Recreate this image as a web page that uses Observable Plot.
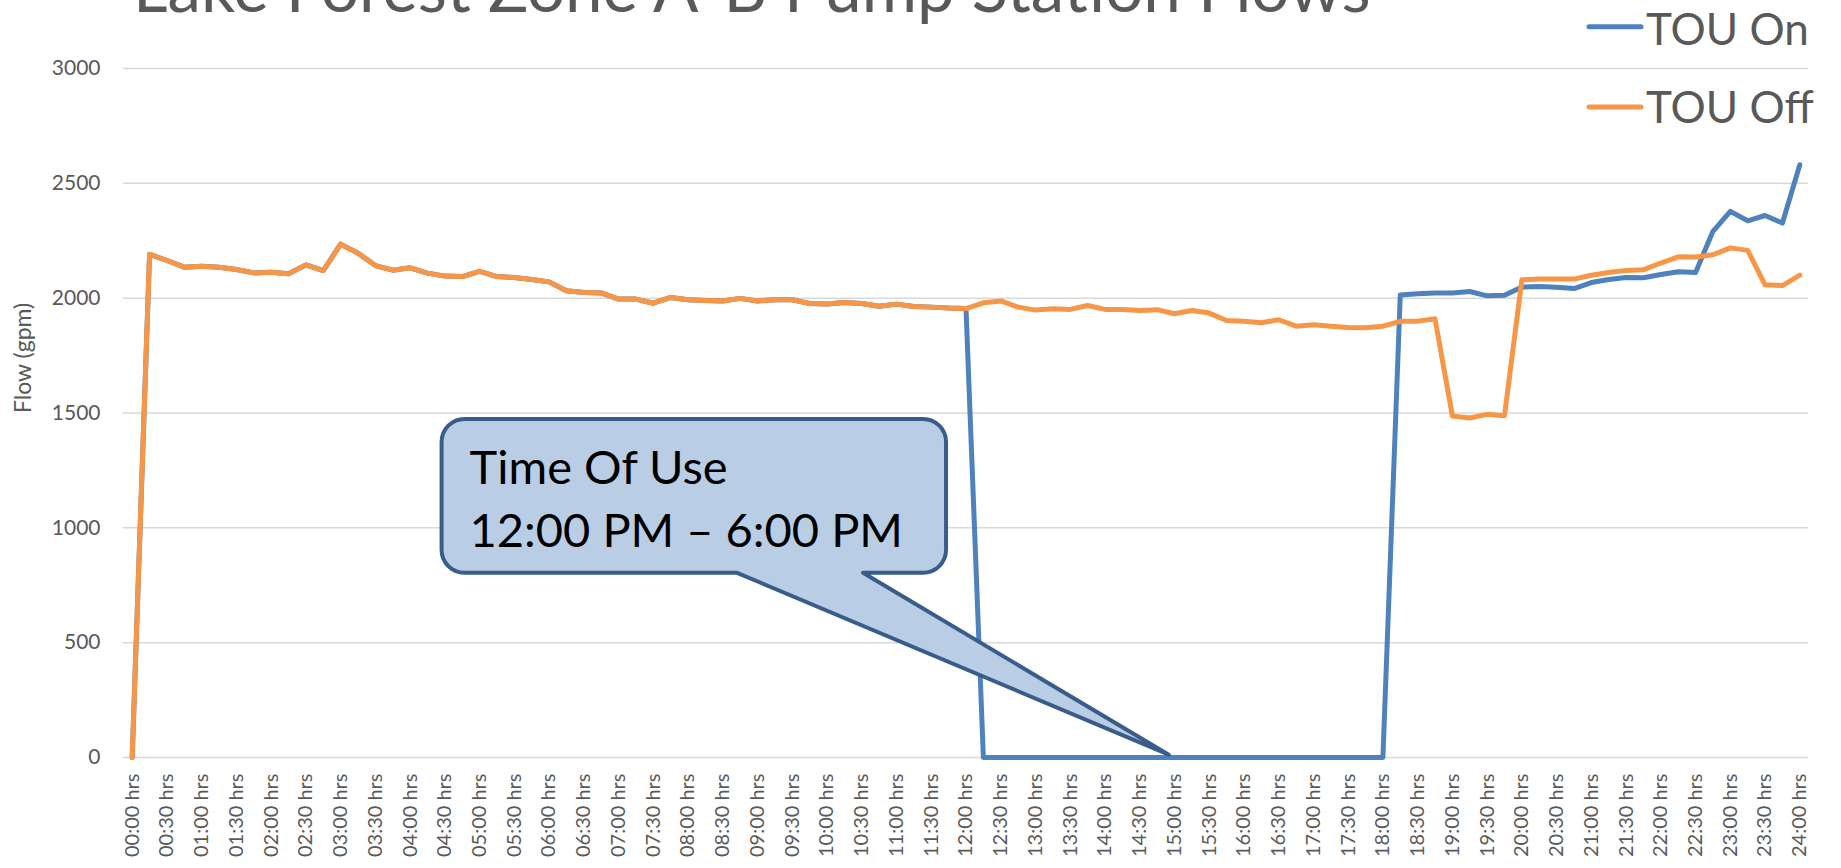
<!DOCTYPE html>
<html><head><meta charset="utf-8">
<script src="https://cdn.jsdelivr.net/npm/d3@7"></script>
<script src="https://cdn.jsdelivr.net/npm/@observablehq/plot@0.6"></script>
<style>html,body{margin:0;padding:0;background:#fff;overflow:hidden}</style>
</head><body><div id="chart"></div>
<script>
const times = ["00:00","00:15","00:30","00:45","01:00","01:15","01:30","01:45","02:00","02:15","02:30","02:45",
"03:00","03:15","03:30","03:45","04:00","04:15","04:30","04:45","05:00","05:15","05:30","05:45",
"06:00","06:15","06:30","06:45","07:00","07:15","07:30","07:45","08:00","08:15","08:30","08:45",
"09:00","09:15","09:30","09:45","10:00","10:15","10:30","10:45","11:00","11:15","11:30","11:45",
"12:00","12:15","12:30","12:45","13:00","13:15","13:30","13:45","14:00","14:15","14:30","14:45",
"15:00","15:15","15:30","15:45","16:00","16:15","16:30","16:45","17:00","17:15","17:30","17:45",
"18:00","18:15","18:30","18:45","19:00","19:15","19:30","19:45","20:00","20:15","20:30","20:45",
"21:00","21:15","21:30","21:45","22:00","22:15","22:30","22:45","23:00","23:15","23:30","23:45","24:00"];

const tickLabels = ["00:00 hrs","00:30 hrs","01:00 hrs","01:30 hrs","02:00 hrs","02:30 hrs","03:00 hrs","03:30 hrs",
"04:00 hrs","04:30 hrs","05:00 hrs","05:30 hrs","06:00 hrs","06:30 hrs","07:00 hrs","07:30 hrs","08:00 hrs","08:30 hrs",
"09:00 hrs","09:30 hrs","10:00 hrs","10:30 hrs","11:00 hrs","11:30 hrs","12:00 hrs","12:30 hrs","13:00 hrs","13:30 hrs",
"14:00 hrs","14:30 hrs","15:00 hrs","15:30 hrs","16:00 hrs","16:30 hrs","17:00 hrs","17:30 hrs","18:00 hrs","18:30 hrs",
"19:00 hrs","19:30 hrs","20:00 hrs","20:30 hrs","21:00 hrs","21:30 hrs","22:00 hrs","22:30 hrs","23:00 hrs","23:30 hrs","24:00 hrs"];

const touOn = [0,2191,2164,2135,2139,2135,2125,2110,2113,2106,2145,2120,
2235,2196,2142,2122,2132,2109,2096,2094,2117,2094,2090,2081,
2071,2032,2025,2023,1996,1996,1978,2003,1993,1990,1988,1999,
1988,1993,1993,1977,1975,1981,1977,1965,1974,1964,1961,1957,
1955,0,0,0,0,0,0,0,0,0,0,0,
0,0,0,0,0,0,0,0,0,0,0,0,
0,2014,2019,2022,2022,2029,2010,2013,2048,2051,2048,2042,
2068,2081,2090,2089,2103,2115,2112,2291,2378,2337,2360,2327,2581];

const touOff = [0,2191,2164,2135,2139,2135,2125,2110,2113,2106,2145,2120,
2235,2196,2142,2122,2132,2109,2096,2094,2117,2094,2090,2081,
2071,2032,2025,2023,1996,1996,1978,2003,1993,1990,1988,1999,
1988,1993,1993,1977,1975,1981,1977,1965,1974,1964,1961,1957,
1955,1980,1988,1961,1948,1954,1951,1968,1951,1951,1946,1950,
1932,1946,1935,1903,1899,1893,1906,1878,1884,1878,1872,1871,
1878,1899,1900,1910,1487,1478,1494,1488,2080,2083,2084,2083,
2100,2112,2121,2124,2153,2180,2179,2189,2219,2208,2058,2055,2100];

const seriesNames = ["TOU On", "TOU Off"];
const seriesColors = ["#4F81BD", "#F79646"];
const yTicks = [0, 500, 1000, 1500, 2000, 2500, 3000];
const titleText = "Lake Forest Zone A-B Pump Station Flows";
const yLabel = "Flow (gpm)";
const calloutLines = ["Time Of Use", "12:00 PM \u2013 6:00 PM"];
// callout geometry in data units (category index, gpm)
const callout = {x1: 17.84, x2: 46.88, yTop: 1472, yBottom: 802, baseL: 34.85, baseR: 42.1, tipX: 59.7, tipY: 10};

const rows = [];
times.forEach((t, i) => {
  rows.push({time: t, flow: touOn[i], series: seriesNames[0]});
  rows.push({time: t, flow: touOff[i], series: seriesNames[1]});
});
const tickTimes = times.filter((t, i) => i % 2 === 0);
const labelOf = new Map(tickTimes.map((t, k) => [t, tickLabels[k]]));
const FONT = "Lato, 'Open Sans', sans-serif";

const plot = Plot.plot({
  width: 1841, height: 868,
  marginLeft: 123, marginRight: 33, marginTop: 68, marginBottom: 111,
  style: {fontFamily: FONT, color: "#595959", background: "#fff"},
  x: {type: "point", domain: times, padding: 0.5, axis: null},
  y: {domain: [0, 3000], axis: null},
  color: {domain: seriesNames, range: seriesColors},
  marks: [
    Plot.gridY(yTicks, {stroke: "#d9d9d9", strokeOpacity: 1, strokeWidth: 1.5}),
    Plot.axisY(yTicks, {tickSize: 0, tickPadding: 23, fontSize: 21, label: null, tickFormat: d => String(d)}),
    Plot.axisX(tickTimes, {tickSize: 0, tickPadding: 16, tickRotate: -90, tickFormat: t => labelOf.get(t), fontSize: 20, label: null}),
    Plot.line(rows, {x: "time", y: "flow", z: "series", stroke: "series", strokeWidth: 5, strokeLinejoin: "round", strokeLinecap: "round"}),
    Plot.text([yLabel], {frameAnchor: "left", dx: -99.5, rotate: -90, fontSize: 23, fill: "#595959"})
  ]
});
document.getElementById("chart").appendChild(plot);

const svg = d3.select(plot);
const xs = plot.scale("x"), ys = plot.scale("y");
const x0 = xs.apply(times[0]), step = xs.apply(times[1]) - x0;
const fx = f => x0 + f * step;
const fy = v => ys.apply(v);

// callout
{
  const L = fx(callout.x1), R = fx(callout.x2), T = fy(callout.yTop), B = fy(callout.yBottom);
  const bl = fx(callout.baseL), br = fx(callout.baseR), tx = fx(callout.tipX), ty = fy(callout.tipY);
  const r = 23;
  const p = d3.path();
  p.moveTo(L + r, T);
  p.lineTo(R - r, T);
  p.arcTo(R, T, R, T + r, r);
  p.lineTo(R, B - r);
  p.arcTo(R, B, R - r, B, r);
  p.lineTo(br, B);
  p.lineTo(tx, ty);
  p.lineTo(bl, B);
  p.lineTo(L + r, B);
  p.arcTo(L, B, L, B - r, r);
  p.lineTo(L, T + r);
  p.arcTo(L, T, L + r, T, r);
  p.closePath();
  svg.append("path").attr("d", p.toString()).attr("fill", "#B9CDE5").attr("stroke", "#385D8A")
    .attr("stroke-width", 4).attr("stroke-linejoin", "round");
  calloutLines.forEach((s, k) => {
    svg.append("text").attr("x", L + 28).attr("y", T + 65 + k * 63).attr("font-size", 47)
      .attr("text-anchor", "start").attr("fill", "#000").attr("font-family", FONT).text(s);
  });
}

// title
{
  const t = svg.append("text").attr("x", 133).attr("y", 12).attr("font-size", 66).attr("text-anchor", "start")
    .attr("fill", "#595959").attr("font-family", FONT).text(titleText);
  const w = t.node().getComputedTextLength();
  t.attr("font-size", 66 * 1238 / w);
}

// legend
seriesNames.forEach((name, k) => {
  const cy = k === 0 ? 26.7 : 107;
  const base = k === 0 ? 44.5 : 122.5;
  svg.append("line").attr("x1", 1589).attr("x2", 1641).attr("y1", cy).attr("y2", cy)
    .attr("stroke", seriesColors[k]).attr("stroke-width", 5).attr("stroke-linecap", "round");
  svg.append("text").attr("x", 1646).attr("y", base).attr("font-size", 44).attr("text-anchor", "start")
    .attr("fill", "#595959").attr("font-family", FONT).text(name);
});
</script></body></html>
